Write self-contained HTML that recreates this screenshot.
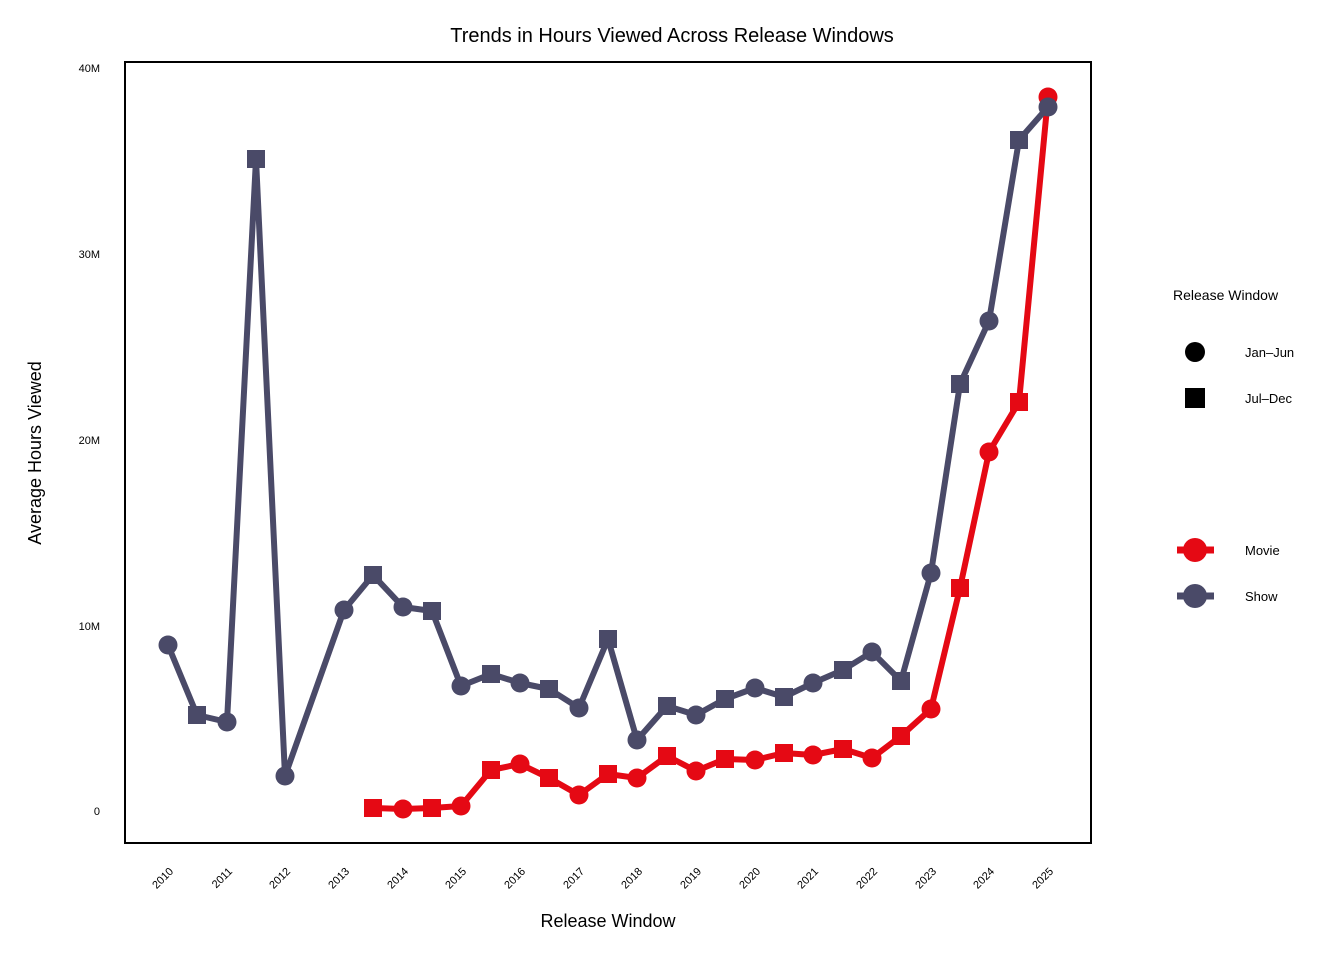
<!DOCTYPE html>
<html><head><style>body{margin:0;background:#fff}svg{display:block;font-family:"Liberation Sans",sans-serif}</style></head><body>
<svg width="1344" height="960" viewBox="0 0 1344 960">
<text x="672" y="42" font-size="20" text-anchor="middle" fill="#000">Trends in Hours Viewed Across Release Windows</text>
<rect x="125" y="62" width="966" height="781" fill="none" stroke="#000" stroke-width="2"/>
<g font-size="11" text-anchor="end" fill="#000">
<text x="100" y="815">0</text><text x="100" y="630">10M</text><text x="100" y="444">20M</text><text x="100" y="258">30M</text><text x="100" y="72">40M</text>
</g>
<text transform="translate(41,453) rotate(-90)" font-size="18" text-anchor="middle">Average Hours Viewed</text>
<text x="608" y="927" font-size="18" text-anchor="middle">Release Window</text>
<g font-size="11" text-anchor="end">
<text transform="translate(174,872) rotate(-45)">2010</text>
<text transform="translate(233,872) rotate(-45)">2011</text>
<text transform="translate(291,872) rotate(-45)">2012</text>
<text transform="translate(350,872) rotate(-45)">2013</text>
<text transform="translate(409,872) rotate(-45)">2014</text>
<text transform="translate(467,872) rotate(-45)">2015</text>
<text transform="translate(526,872) rotate(-45)">2016</text>
<text transform="translate(585,872) rotate(-45)">2017</text>
<text transform="translate(643,872) rotate(-45)">2018</text>
<text transform="translate(702,872) rotate(-45)">2019</text>
<text transform="translate(761,872) rotate(-45)">2020</text>
<text transform="translate(819,872) rotate(-45)">2021</text>
<text transform="translate(878,872) rotate(-45)">2022</text>
<text transform="translate(937,872) rotate(-45)">2023</text>
<text transform="translate(995,872) rotate(-45)">2024</text>
<text transform="translate(1054,872) rotate(-45)">2025</text>
</g>
<g fill="#E50914" stroke="none">
<polyline fill="none" stroke="#E50914" stroke-width="6" stroke-linejoin="round" points="373,808 403,809 432,808 461,806 491,770 520,764 549,778 579,795 608,774 637,778 667,756 696,771 725,759 755,760 784,753 813,755 843,749 872,758 901,736 931,709 960,588 989,452 1019,402 1048,97"/>
<rect x="364" y="799" width="18" height="18"/><circle cx="403" cy="809" r="9.5"/><rect x="423" y="799" width="18" height="18"/><circle cx="461" cy="806" r="9.5"/>
<rect x="482" y="761" width="18" height="18"/><circle cx="520" cy="764" r="9.5"/><rect x="540" y="769" width="18" height="18"/><circle cx="579" cy="795" r="9.5"/>
<rect x="599" y="765" width="18" height="18"/><circle cx="637" cy="778" r="9.5"/><rect x="658" y="747" width="18" height="18"/><circle cx="696" cy="771" r="9.5"/>
<rect x="716" y="750" width="18" height="18"/><circle cx="755" cy="760" r="9.5"/><rect x="775" y="744" width="18" height="18"/><circle cx="813" cy="755" r="9.5"/>
<rect x="834" y="740" width="18" height="18"/><circle cx="872" cy="758" r="9.5"/><rect x="892" y="727" width="18" height="18"/><circle cx="931" cy="709" r="9.5"/>
<rect x="951" y="579" width="18" height="18"/><circle cx="989" cy="452" r="9.5"/><rect x="1010" y="393" width="18" height="18"/><circle cx="1048" cy="97" r="9.5"/>
</g>
<g fill="#4A4A68">
<polyline fill="none" stroke="#4A4A68" stroke-width="6" stroke-linejoin="round" points="168,645 197,715 227,722 256,159 285,776 344,610 373,575 403,607 432,611 461,686 491,674 520,683 549,689 579,708 608,639 637,740 667,706 696,715 725,699 755,688 784,697 813,683 843,670 872,652 901,681 931,573 960,384 989,321 1019,140 1048,107"/>
<circle cx="168" cy="645" r="9.5"/><rect x="188" y="706" width="18" height="18"/><circle cx="227" cy="722" r="9.5"/><rect x="247" y="150" width="18" height="18"/>
<circle cx="285" cy="776" r="9.5"/><circle cx="344" cy="610" r="9.5"/><rect x="364" y="566" width="18" height="18"/><circle cx="403" cy="607" r="9.5"/>
<rect x="423" y="602" width="18" height="18"/><circle cx="461" cy="686" r="9.5"/><rect x="482" y="665" width="18" height="18"/><circle cx="520" cy="683" r="9.5"/>
<rect x="540" y="680" width="18" height="18"/><circle cx="579" cy="708" r="9.5"/><rect x="599" y="630" width="18" height="18"/><circle cx="637" cy="740" r="9.5"/>
<rect x="658" y="697" width="18" height="18"/><circle cx="696" cy="715" r="9.5"/><rect x="716" y="690" width="18" height="18"/><circle cx="755" cy="688" r="9.5"/>
<rect x="775" y="688" width="18" height="18"/><circle cx="813" cy="683" r="9.5"/><rect x="834" y="661" width="18" height="18"/><circle cx="872" cy="652" r="9.5"/>
<rect x="892" y="672" width="18" height="18"/><circle cx="931" cy="573" r="9.5"/><rect x="951" y="375" width="18" height="18"/><circle cx="989" cy="321" r="9.5"/>
<rect x="1010" y="131" width="18" height="18"/><circle cx="1048" cy="107" r="9.5"/>
</g>
<text x="1173" y="300" font-size="14">Release Window</text>
<circle cx="1195" cy="352" r="10"/><text x="1245" y="357" font-size="13">Jan–Jun</text>
<rect x="1185" y="388" width="20" height="20"/><text x="1245" y="403" font-size="13">Jul–Dec</text>
<line x1="1177" y1="550" x2="1214" y2="550" stroke="#E50914" stroke-width="7"/><circle cx="1195" cy="550" r="12" fill="#E50914"/><text x="1245" y="555" font-size="13">Movie</text>
<line x1="1177" y1="596" x2="1214" y2="596" stroke="#4A4A68" stroke-width="7"/><circle cx="1195" cy="596" r="12" fill="#4A4A68"/><text x="1245" y="601" font-size="13">Show</text>
</svg>
</body></html>
